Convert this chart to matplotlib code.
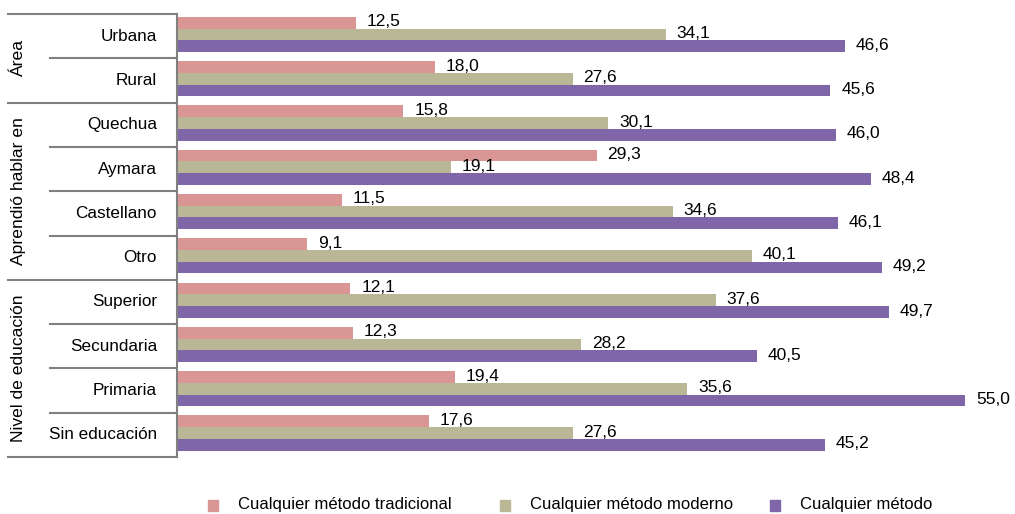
import matplotlib.pyplot as plt
import numpy as np
from matplotlib.patches import Rectangle

plt.rcParams['font.family'] = ['Liberation Sans', 'DejaVu Sans']

categories = ['Urbana', 'Rural', 'Quechua', 'Aymara', 'Castellano', 'Otro',
              'Superior', 'Secundaria', 'Primaria', 'Sin educación']
groups = [('Área', 0, 2), ('Aprendió hablar en', 2, 6), ('Nivel de educación', 6, 10)]

tradicional = [12.5, 18.0, 15.8, 29.3, 11.5, 9.1, 12.1, 12.3, 19.4, 17.6]
moderno = [34.1, 27.6, 30.1, 19.1, 34.6, 40.1, 37.6, 28.2, 35.6, 27.6]
cualquier = [46.6, 45.6, 46.0, 48.4, 46.1, 49.2, 49.7, 40.5, 55.0, 45.2]

series = [
    ('Cualquier método tradicional', tradicional, '#D99694'),
    ('Cualquier método moderno', moderno, '#B9B795'),
    ('Cualquier método', cualquier, '#7E66A8'),
]

W, H = 1015, 514
fig = plt.figure(figsize=(W / 100, H / 100), dpi=100)
ax = fig.add_axes([177 / W, 1 - 457 / H, 823 / W, 443 / H])

y = np.arange(len(categories))
h = 0.265
offsets = [-h, 0, h]
for (name, vals, color), off in zip(series, offsets):
    bars = ax.barh(y + off - 0.04, vals, height=h, color=color, label=name)
    for b, v in zip(bars, vals):
        ax.text(v + 0.75, b.get_y() + b.get_height() / 2 - 0.02, f'{v:.1f}'.replace('.', ','),
                va='center', ha='left', fontsize=12.5)

ax.set_ylim(len(categories) - 0.5, -0.5)
ax.set_xlim(0, 823 / 14.33)
ax.set_xticks([])
ax.set_yticks([])
for s in ['top', 'right', 'bottom']:
    ax.spines[s].set_visible(False)
ax.spines['left'].set_color('#808080')
ax.spines['left'].set_linewidth(1.5)

tr = ax.get_yaxis_transform()
x_outer = (8 - 177) / 823
x_inner = (50 - 177) / 823
gray = '#808080'

# separators between categories and groups
for i in range(len(categories) + 1):
    yy = i - 0.5
    is_group = any(yy == g[1] - 0.5 for g in groups) or i == len(categories)
    x0 = x_outer if is_group else x_inner
    ax.plot([x0, 0], [yy, yy], color=gray, lw=1.5, transform=tr, clip_on=False)

for i, c in enumerate(categories):
    ax.text((157 - 177) / 823, i, c, transform=tr, ha='right', va='center', fontsize=12.3)

for name, a, b in groups:
    ax.text((19 - 177) / 823, (a + b - 1) / 2, name, transform=tr, rotation=90,
            ha='center', va='center', fontsize=12.6)

# legend drawn by hand so the entries sit where the original puts them
legend_x = [208, 500, 770]
for (name, _, color), lx in zip(series, legend_x):
    fig.add_artist(Rectangle((lx / W, 1 - 511 / H), 10 / W, 11 / H,
                             transform=fig.transFigure, color=color))
    fig.text((lx + 30) / W, 1 - 505 / H, name, ha='left', va='center', fontsize=12)

plt.savefig('out.png')
